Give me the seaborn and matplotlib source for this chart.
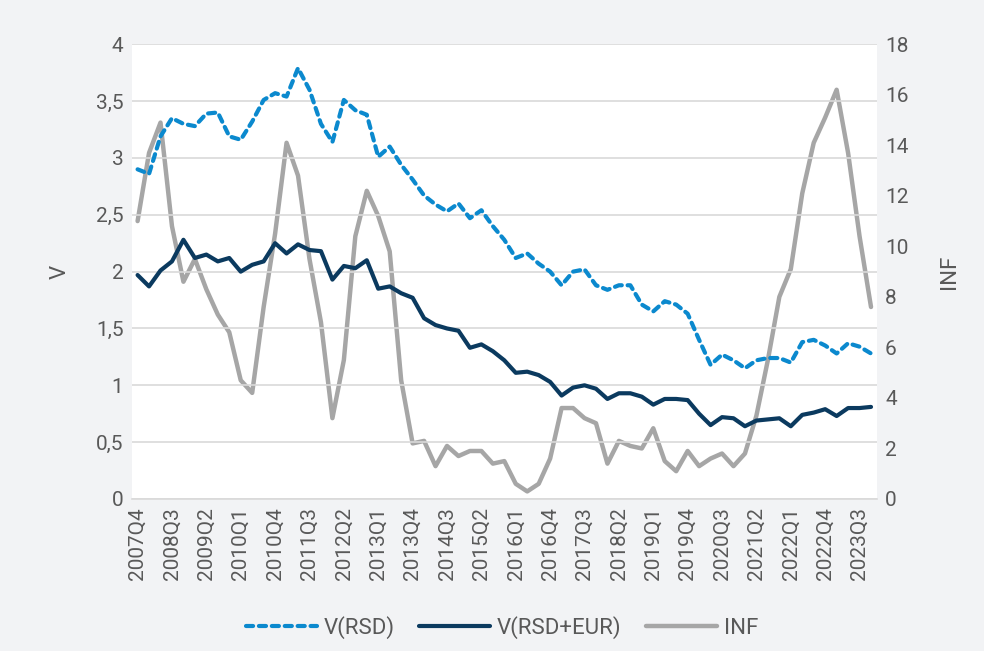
import numpy as np
import matplotlib
matplotlib.use('Agg')
import matplotlib.pyplot as plt
import seaborn as sns
from matplotlib.ticker import FuncFormatter

# quarterly data, 2007Q4 - 2023Q4
quarters = [f'{y}Q{q}' for y in range(2007, 2024) for q in range(1, 5)][3:]
v_rsd = [2.90, 2.86, 3.19, 3.35, 3.30, 3.28, 3.39, 3.40, 3.19, 3.16,
         3.32, 3.51, 3.57, 3.54, 3.79, 3.60, 3.30, 3.14, 3.51, 3.42,
         3.38, 3.01, 3.10, 2.94, 2.81, 2.67, 2.59, 2.53, 2.60, 2.47,
         2.54, 2.40, 2.28, 2.12, 2.16, 2.07, 2.00, 1.88, 2.00, 2.02,
         1.88, 1.84, 1.88, 1.88, 1.71, 1.65, 1.74, 1.71, 1.63, 1.40,
         1.18, 1.27, 1.22, 1.15, 1.22, 1.24, 1.24, 1.20, 1.38, 1.40,
         1.35, 1.28, 1.37, 1.34, 1.28]
v_rsd_eur = [1.97, 1.87, 2.01, 2.09, 2.28, 2.12, 2.15, 2.09, 2.12, 2.00,
             2.06, 2.09, 2.25, 2.16, 2.24, 2.19, 2.18, 1.93, 2.05, 2.03,
             2.10, 1.85, 1.87, 1.81, 1.77, 1.59, 1.53, 1.50, 1.48, 1.33,
             1.36, 1.30, 1.22, 1.11, 1.12, 1.09, 1.03, 0.91, 0.98, 1.00,
             0.97, 0.88, 0.93, 0.93, 0.90, 0.83, 0.88, 0.88, 0.87, 0.75,
             0.65, 0.72, 0.71, 0.64, 0.69, 0.70, 0.71, 0.64, 0.74, 0.76,
             0.79, 0.73, 0.80, 0.80, 0.81]
inf = [11.0, 13.7, 14.9, 10.8, 8.6, 9.5, 8.3, 7.3, 6.6, 4.7,
       4.2, 7.6, 10.5, 14.1, 12.8, 9.5, 7.0, 3.2, 5.5, 10.4,
       12.2, 11.2, 9.8, 4.7, 2.2, 2.3, 1.3, 2.1, 1.7, 1.9,
       1.9, 1.4, 1.5, 0.6, 0.3, 0.6, 1.6, 3.6, 3.6, 3.2,
       3.0, 1.4, 2.3, 2.1, 2.0, 2.8, 1.5, 1.1, 1.9, 1.3,
       1.6, 1.8, 1.3, 1.8, 3.3, 5.5, 8.0, 9.1, 12.1, 14.1,
       15.1, 16.2, 13.7, 10.4, 7.6]

c_rsd = '#0B89CE'
c_eur = '#0B3A5F'
c_inf = '#A6A6A6'
txt = '#595959'

sns.set_theme(style='white')
plt.rcParams['font.family'] = ['Roboto', 'DejaVu Sans']

fig, ax = plt.subplots(figsize=(9.84, 6.51), dpi=100)
fig.patch.set_facecolor('#F2F3F5')
ax.set_facecolor('white')
fig.subplots_adjust(left=0.134, right=0.891, top=0.932, bottom=0.2335)

x = np.arange(len(quarters))
ax2 = ax.twinx()

sns.lineplot(x=x, y=v_rsd, ax=ax, color=c_rsd, lw=3.0, label='V(RSD)',
             dashes=False, zorder=3)
ax.lines[-1].set_dashes((1.7, 1.4))
ax.lines[-1].set_dash_capstyle('round')
sns.lineplot(x=x, y=v_rsd_eur, ax=ax, color=c_eur, lw=3.0, label='V(RSD+EUR)', zorder=3)
sns.lineplot(x=x, y=inf, ax=ax2, color=c_inf, lw=3.2, label='INF', zorder=2)

ax.set_zorder(ax2.get_zorder() + 1)
ax.patch.set_visible(False)
ax2.set_facecolor('white')
ax2.patch.set_visible(True)

ax.set_xlim(-0.5, len(quarters) - 0.5)
ax.set_ylim(0, 4)
ax2.set_ylim(0, 18)
ax.set_yticks(np.arange(0, 4.01, 0.5))
ax2.set_yticks(np.arange(0, 19, 2))
ax.yaxis.set_major_formatter(FuncFormatter(lambda v, p: f'{v:g}'.replace('.', ',')))
ax.set_xticks(x[::3])
ax.set_xticklabels(quarters[::3], rotation=90)

ax.grid(axis='y', color='#D9D9D9', lw=1.2)
ax.grid(axis='x', visible=False)
for a in (ax, ax2):
    for s in a.spines.values():
        s.set_visible(False)
    a.tick_params(colors=txt, labelsize=15, length=0, pad=6)
ax.spines['bottom'].set_visible(True)
ax.spines['bottom'].set_color('#D9D9D9')
ax.spines['bottom'].set_linewidth(1.2)

ax.set_ylabel('V', color=txt, fontsize=16, labelpad=18)
ax2.set_ylabel('INF', color=txt, fontsize=16, labelpad=22)
ax.set_xlabel('')

h1, l1 = ax.get_legend_handles_labels()
h2, l2 = ax2.get_legend_handles_labels()
ax2.get_legend().remove()
ax.legend(h1 + h2, l1 + l2, loc='lower center', bbox_to_anchor=(0.51, -0.012),
          bbox_transform=fig.transFigure, ncol=3, frameon=False, fontsize=16,
          labelcolor=txt, handlelength=3.2, columnspacing=1.1, handletextpad=0.3)

fig.savefig('out.png', dpi=100, facecolor=fig.get_facecolor())
